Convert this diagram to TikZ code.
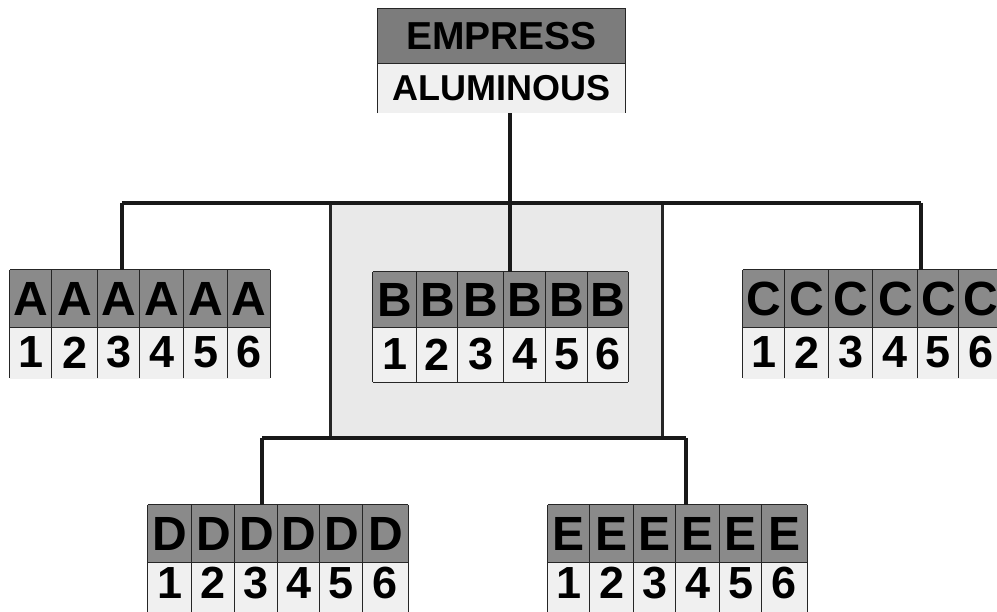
\documentclass[tikz,border=0pt]{standalone}
\usepackage{fontspec}
\setmainfont{Liberation Sans}
\definecolor{hdrgray}{HTML}{8A8A8A}
\definecolor{numgray}{HTML}{F0F0F0}
\definecolor{panelgray}{HTML}{E9E9E9}
\definecolor{rootgray}{HTML}{7C7C7C}
\tikzset{
  hdr/.style={fill=hdrgray, inner sep=0pt, font=\fontsize{48}{48}\selectfont\bfseries},
  num/.style={fill=numgray, inner sep=0pt, font=\fontsize{45}{45}\selectfont\bfseries},
  gridline/.style={line width=1.3pt, draw=black!85},
  conn/.style={line width=3.4pt, draw=black!90},
  panelbox/.style={draw=black!85, line width=3pt, fill=panelgray, inner sep=0pt},
  roothdr/.style={fill=rootgray, inner sep=0pt, font=\fontsize{39}{39}\selectfont\bfseries},
  rootlow/.style={fill=numgray, inner sep=0pt, font=\fontsize{36}{36}\selectfont\bfseries}
}
% #1 name, #2 letter, #3 column pairs, #4 ytop, #5 ymid, #6 ybot of cells,
% #7 y where vertical lines end, #8 bottom border (1/0)
\newcommand\digitbox[8]{%
  \foreach \a/\b [count=\i] in {#3} {
    \node[hdr, minimum width={(\b-\a)*1pt}, minimum height={(#5-#4)*1pt}]
      (#1h\i) at ({(\a+\b)/2},{(#4+#5)/2}) {#2};
    \node[num, minimum width={(\b-\a)*1pt}, minimum height={(#6-#5)*1pt}]
      (#1n\i) at ({(\a+\b)/2},{(#5+#6)/2}) {\i};
    \fill[numgray] (#1n\i.south west) rectangle (\b,#7);
  }
  \draw[gridline] (#1h1.north west) -- (#1h6.north east);
  \draw[gridline] (#1h1.south west) -- (#1h6.south east);
  \foreach \i in {1,...,6} {\draw[gridline] (#1h\i.north west) -- (#1h\i.north west |- 0,#7);}
  \draw[gridline] (#1h6.north east) -- (#1h6.north east |- 0,#7);
  \ifnum#8=1 \draw[gridline] (#1n1.south west) -- (#1n6.south east);\fi
}
\begin{document}
\begin{tikzpicture}[x=1pt,y=-1pt]
\useasboundingbox (0,0) rectangle (997,612);
\fill[white] (0,0) rectangle (997,612);

% central panel
\node[panelbox, minimum width=332pt, minimum height=235pt] (panel) at (496,320) {};

% root box
\node[roothdr, minimum width=247pt, minimum height=54pt] (rootH) at (501.5,36) {EMPRESS};
\node[rootlow, minimum width=247pt, minimum height=50pt] (rootL) at (501.5,88) {ALUMINOUS};
\draw[gridline] (rootL.south west) -- (rootH.north west) -- (rootH.north east) -- (rootL.south east);
\draw[gridline] (rootH.south west) -- (rootH.south east);

% boxes
\digitbox{A}{A}{10/52,52/98,98/140,140/184,184/228,228/270}{270}{327}{378}{378}{0}
\digitbox{B}{B}{373/417,417/458,458/504,504/546,546/588,588/628}{272}{327}{382}{382}{1}
\digitbox{C}{C}{743/785,785/829,829/873,873/918,918/959,959/1003}{270}{327}{378}{378}{0}
\digitbox{D}{D}{148/192,192/235,235/278,278/320,320/363,363/408}{505}{562}{604}{615}{0}
\digitbox{E}{E}{548/590,590/634,634/676,676/720,720/762,762/807}{505}{562}{604}{615}{0}

% upper connectors
\coordinate (busL) at (122,203);
\coordinate (busM) at (510,203);
\coordinate (busR) at (921,203);
\draw[conn] (busL) -- (busR);
\draw[conn] (busM |- rootL.south) -- (busM |- Bh4.north);
\draw[conn] (busL) -- (busL |- Ah3.north);
\draw[conn] (busR) -- (busR |- Ch5.north);

% lower connectors
\coordinate (lowL) at (262,438);
\coordinate (lowR) at (686,438);
\draw[conn] (lowL) -- (lowR);
\draw[conn] (lowL) -- (lowL |- Dh3.north);
\draw[conn] (lowR) -- (lowR |- Eh4.north);
\end{tikzpicture}
\end{document}
